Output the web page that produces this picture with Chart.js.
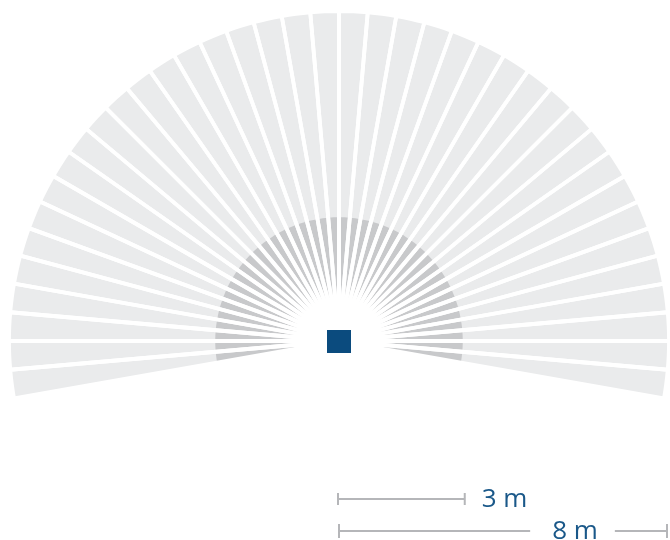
<!DOCTYPE html>
<html>
<head>
<meta charset="utf-8">
<script src="https://cdn.jsdelivr.net/npm/chart.js@4/dist/chart.umd.min.js"></script>
<style>
  html, body { margin: 0; padding: 0; background: #fff; overflow: hidden; }
  #wrap { width: 670px; height: 682px; }
</style>
</head>
<body>
<div id="wrap"><canvas id="fan" width="670" height="682"></canvas></div>
<script>
// one sector every 5 degrees, from 10 deg below the left horizon to 10 deg below the right one
const directions = [
  '-100', '-95', '-90', '-85', '-80', '-75', '-70', '-65', '-60', '-55',
  '-50', '-45', '-40', '-35', '-30', '-25', '-20', '-15', '-10', '-5',
  '0', '5', '10', '15', '20', '25', '30', '35', '40', '45',
  '50', '55', '60', '65', '70', '75', '80', '85', '90', '95'
];
// reach in metres
const farRange = [
  8, 8, 8, 8, 8, 8, 8, 8, 8, 8,
  8, 8, 8, 8, 8, 8, 8, 8, 8, 8,
  8, 8, 8, 8, 8, 8, 8, 8, 8, 8,
  8, 8, 8, 8, 8, 8, 8, 8, 8, 8
];
const nearRange = [
  3, 3, 3, 3, 3, 3, 3, 3, 3, 3,
  3, 3, 3, 3, 3, 3, 3, 3, 3, 3,
  3, 3, 3, 3, 3, 3, 3, 3, 3, 3,
  3, 3, 3, 3, 3, 3, 3, 3, 3, 3
];
const scaleBars = [3, 8];
const scaleLabels = ['3 m', '8 m'];

const blue = '#0b4b7e';
const barGrey = '#b5b6b9';

// sensor square + the two scale bars under the fan
const overlay = {
  id: 'overlay',
  afterDatasetsDraw(chart) {
    const r = chart.scales.r;
    const ctx = chart.ctx;
    const cx = r.xCenter, cy = r.yCenter;
    ctx.save();
    ctx.fillStyle = blue;
    ctx.fillRect(cx - 12, cy - 11, 24, 23);

    ctx.strokeStyle = barGrey;
    ctx.lineWidth = 2;
    ctx.font = '26px "Open Sans", "Noto Sans", sans-serif';
    ctx.fillStyle = '#1a5889';
    ctx.textBaseline = 'alphabetic';

    // 3 m
    let y = 499;
    let len = r.getDistanceFromCenterForValue(scaleBars[0]) + 2;
    ctx.beginPath();
    ctx.moveTo(cx - 1, y); ctx.lineTo(cx + len, y);
    ctx.moveTo(cx - 1, y - 6); ctx.lineTo(cx - 1, y + 6);
    ctx.moveTo(cx + len, y - 6); ctx.lineTo(cx + len, y + 6);
    ctx.stroke();
    ctx.textAlign = 'left';
    ctx.fillText(scaleLabels[0], cx + len + 17, 507);

    // 8 m, label sits in a gap of the bar
    y = 531;
    len = r.getDistanceFromCenterForValue(scaleBars[1]) - 2;
    const tx = 575;
    const tw = ctx.measureText(scaleLabels[1]).width;
    ctx.beginPath();
    ctx.moveTo(cx, y); ctx.lineTo(tx - tw / 2 - 22, y);
    ctx.moveTo(tx + tw / 2 + 17, y); ctx.lineTo(cx + len, y);
    ctx.moveTo(cx, y - 7); ctx.lineTo(cx, y + 7);
    ctx.moveTo(cx + len, y - 7); ctx.lineTo(cx + len, y + 7);
    ctx.stroke();
    ctx.textAlign = 'center';
    ctx.fillText(scaleLabels[1], tx, 539);
    ctx.restore();
  }
};

const ctx = document.getElementById('fan').getContext('2d');
const chart = new Chart(ctx, {
  type: 'polarArea',
  data: {
    labels: directions,
    datasets: [
      { // white spokes on top of both rings
        data: farRange,
        angle: 5,
        backgroundColor: 'rgba(0,0,0,0)',
        borderColor: '#ffffff',
        borderWidth: 3.8
      },
      {
        data: nearRange,
        angle: 5,
        backgroundColor: '#c8c9cb',
        borderWidth: 0
      },
      {
        data: farRange,
        angle: 5,
        backgroundColor: '#eaebec',
        borderWidth: 0
      }
    ]
  },
  options: {
    responsive: false,
    animation: false,
    devicePixelRatio: 1,
    layout: { padding: { left: 9, right: 1, top: 11, bottom: 11 } },
    plugins: {
      legend: { display: false },
      tooltip: { enabled: false }
    },
    scales: {
      r: {
        min: 0,
        max: 8,
        startAngle: -100,
        ticks: { display: false },
        grid: { display: false },
        angleLines: { display: false },
        pointLabels: { display: false }
      }
    }
  },
  plugins: [overlay]
});
</script>
</body>
</html>
